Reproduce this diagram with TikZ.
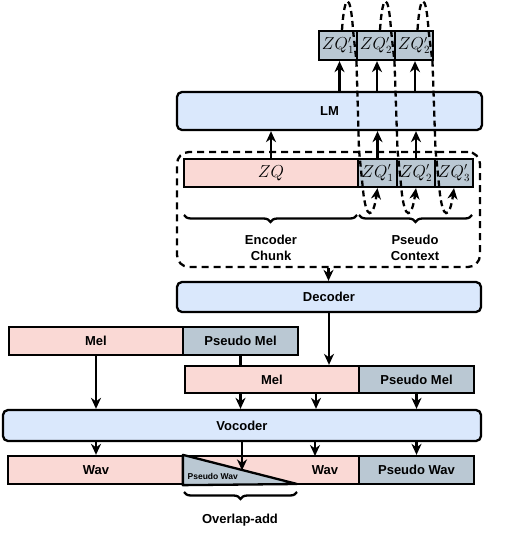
\documentclass[tikz,border=0pt]{standalone}
\usepackage{fontspec}
\setmainfont{Liberation Sans}
\usetikzlibrary{arrows.meta,decorations.pathreplacing,calc}
\definecolor{pinkf}{HTML}{FAD9D5}
\definecolor{grayf}{HTML}{BAC8D3}
\definecolor{bluef}{HTML}{DAE8FC}
\begin{document}
\begin{tikzpicture}[x=1pt,y=-1pt, line width=2.3pt,
 box/.style={draw=black, line width=2.3pt, inner sep=0pt, font=\fontsize{13}{15}\selectfont\bfseries},
 pinkbox/.style={box, fill=pinkf},
 graybox/.style={box, fill=grayf},
 bluebox/.style={box, fill=bluef, rounded corners=5pt},
 mathf/.style={font=\fontsize{16}{18}\selectfont},
 arr/.style={-{Stealth[length=11pt,width=10pt,inset=3.5pt]}, line width=2.3pt},
 darr/.style={arr, dash pattern=on 6pt off 4pt},
 lbl/.style={font=\fontsize{13}{16}\selectfont\bfseries, align=center, inner sep=0pt},
 brc/.style={decorate, decoration={brace, amplitude=7pt, mirror}, line width=2.3pt}
]
\useasboundingbox (0,0) rectangle (508,534);

% dashed context frame
\node[draw, dash pattern=on 7pt off 5pt, rounded corners=12pt, line width=2.3pt,
      minimum width=303pt, minimum height=115pt, inner sep=0pt] (ctx) at (328.5,209.5) {};

% top output boxes
\node[graybox, mathf, minimum width=38pt, minimum height=29pt] (o1) at (338,45.5) {$ZQ'_1$};
\node[graybox, mathf, minimum width=38pt, minimum height=29pt] (o2) at (376,45.5) {$ZQ'_2$};
\node[graybox, mathf, minimum width=38pt, minimum height=29pt] (o3) at (414,45.5) {$ZQ'_2$};

% LM
\node[bluebox, minimum width=305pt, minimum height=38pt] (lm) at (329.5,111) {LM};

% input row
\node[pinkbox, mathf, minimum width=174pt, minimum height=28pt] (zq) at (271,173) {$ZQ$};
\node[graybox, mathf, minimum width=39pt, minimum height=28pt] (p1) at (377.5,173) {$ZQ'_1$};
\node[graybox, mathf, minimum width=38pt, minimum height=28pt] (p2) at (416,173) {$ZQ'_2$};
\node[graybox, mathf, minimum width=38pt, minimum height=28pt] (p3) at (454,173) {$ZQ'_3$};

% arrows input -> LM -> outputs
\draw[arr] (zq.north) -- (zq.north |- lm.south);
\draw[arr] (p1.north) -- (p1.north |- lm.south);
\draw[arr] (p2.north) -- (p2.north |- lm.south);
\draw[arr] ([xshift=1.5pt]o1.south |- lm.north) -- ([xshift=1.5pt]o1.south);
\draw[arr] ([xshift=1pt]o2.south |- lm.north) -- ([xshift=1pt]o2.south);
\draw[arr] ([xshift=1pt]o3.south |- lm.north) -- ([xshift=1pt]o3.south);

% dashed feedback loops
\draw[darr] ([xshift=4pt]o1.north) .. controls +(2.5,-38) and +(-2.5,-38) .. ([xshift=15pt]o1.north)
   -- (356.5,62) -- (359,150) -- (363,190) .. controls (366,220) and (373,220) .. (p1.south);
\draw[darr] ([xshift=4pt]o2.north) .. controls +(2.5,-38) and +(-2.5,-38) .. ([xshift=15pt]o2.north)
   -- (394.5,62) -- (397.5,150) -- (401.5,190) .. controls (404.5,220) and (411.5,220) .. (p2.south);
\draw[darr] ([xshift=3.5pt]o3.north) .. controls +(2.5,-38) and +(-2.5,-38) .. ([xshift=14.5pt]o3.north)
   -- (432.5,62) -- (435.5,150) -- (439.5,190) .. controls (442.5,220) and (449.5,220) .. (p3.south);

% braces and labels
\draw[brc] (184,215) -- (357,215);
\draw[brc] (359,215) -- (472,215);
\node[lbl] (ench) at (271,248) {Encoder\\Chunk};
\node[lbl] (psc) at (415,248) {Pseudo\\Context};

% decoder
\node[bluebox, minimum width=304pt, minimum height=30pt] (dec) at (329,297) {Decoder};
\draw[arr] (ctx.south) -- (ctx.south |- dec.north);

% mel rows
\node[pinkbox, minimum width=174pt, minimum height=28pt] (mel1) at (96,341) {Mel};
\node[graybox, minimum width=115pt, minimum height=28pt] (pm1) at (240.5,341) {Pseudo Mel};
\node[bluebox, minimum width=478pt, minimum height=31pt] (voc) at (242,425.5) {Vocoder};
\draw[arr] (pm1.south) -- (pm1.south |- voc.north);
\draw[arr] (mel1.south) -- (mel1.south |- voc.north);
\node[pinkbox, minimum width=174pt, minimum height=27pt] (mel2) at (272,379.5) {Mel};
\node[graybox, minimum width=115pt, minimum height=27pt] (pm2) at (416.5,379.5) {Pseudo Mel};
\draw[arr] (dec.south) -- (dec.south |- mel2.north);
\draw[arr] ([xshift=44pt]mel2.south) -- ([xshift=44pt]mel2.south |- voc.north);
\draw[arr] (pm2.south) -- (pm2.south |- voc.north);

% wav row
\node[pinkbox, minimum width=176pt, minimum height=28pt] (wav1) at (96,470) {Wav};
\node[pinkbox, minimum width=175pt, minimum height=28pt] (wav2) at (271.5,470) {};
\node[graybox, minimum width=115pt, minimum height=28pt] (pw) at (416.5,470) {Pseudo Wav};
\filldraw[fill=grayf, line width=2.3pt, line join=round] (wav2.north west) -- (297,484) -- (wav2.south west) -- cycle;
\node[font=\fontsize{8.5}{10}\selectfont\bfseries, anchor=west, inner sep=0pt] (pwt) at (186.5,476.5) {Pseudo Wav};
\node[lbl] (wavt) at (325,470) {Wav};
\coordinate (ovl) at (242,470.4);
\coordinate (w2in) at (315,456);
\draw[arr] (wav1.north |- voc.south) -- (wav1.north);
\draw[arr] (ovl |- voc.south) -- (ovl);
\draw[arr] (w2in |- voc.south) -- (w2in);
\draw[arr] (pw.north |- voc.south) -- (pw.north);

% overlap-add
\draw[brc] (184,492) -- (297,492);
\node[lbl] (ola) at (240,520) {Overlap-add};
\end{tikzpicture}
\end{document}
